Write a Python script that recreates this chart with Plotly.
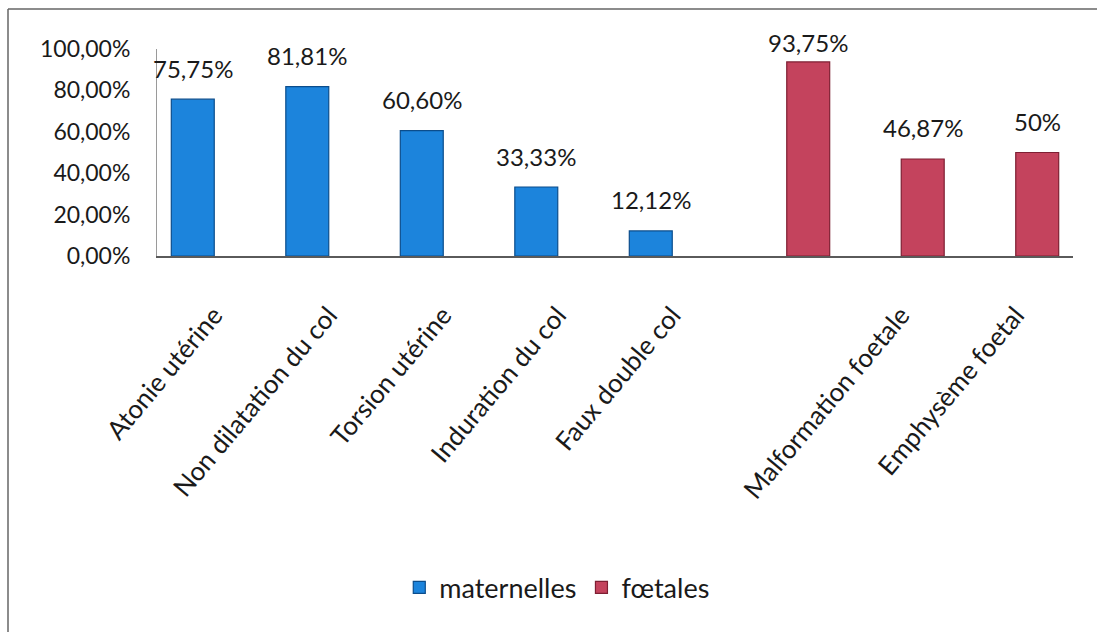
import plotly.graph_objects as go

# Causes of dystocia, share of cases (%)
categories = [
    "Atonie utérine",
    "Non dilatation du col",
    "Torsion utérine",
    "Induration du col",
    "Faux double col",
    "",
    "Malformation foetale",
    "Emphysème foetal",
]
maternelles = [75.75, 81.81, 60.60, 33.33, 12.12, None, None, None]
foetales = [None, None, None, None, None, 93.75, 46.87, 50]
y_ticks = [0, 20, 40, 60, 80, 100]

W, H = 1097, 632
M_L, M_R, M_T, M_B = 157, 24, 49, 376
Y_MAX = 100
BARGAP = 0.25
FONT = "Lato"
TXT = "#1a1a1a"


def pct(v, keep_decimals=False):
    s = f"{v:.2f}".replace(".", ",")
    if s.endswith(",00") and not keep_decimals:
        s = s[:-3]
    return s + "%"


xpos = list(range(len(categories)))
plot_w = W - M_L - M_R
plot_h = H - M_T - M_B

fig = go.Figure()
fig.add_bar(
    x=xpos, y=maternelles, name="maternelles",
    marker=dict(color="#1c84dc", line=dict(color="#0b4d8c", width=1.2)),
)
fig.add_bar(
    x=xpos, y=foetales, name="fœtales",
    marker=dict(color="#c4435d", line=dict(color="#7e1f33", width=1.2)),
)

# value labels above each bar (bars sit half a slot left/right of the tick);
# labels are kept inside the plotting area near the top
half_slot = (1 - BARGAP) / 4
for series, sign in ((maternelles, -1), (foetales, 1)):
    for i, v in enumerate(series):
        if v is None:
            continue
        bar_top = M_T + (Y_MAX - v) / Y_MAX * plot_h
        label_y = max(bar_top - 31, 42)
        fig.add_annotation(
            x=i + sign * half_slot, y=v, text=pct(v), showarrow=False,
            xanchor="center", yanchor="middle", yshift=bar_top - label_y,
            font=dict(family=FONT, size=24, color=TXT),
        )


def px_to_paper_x(px):
    return (px - M_L) / plot_w


def px_to_paper_y(py):
    return (H - M_B - py) / plot_h


# frame: top and left edges
frame = dict(type="line", xref="paper", yref="paper",
             line=dict(color="#666666", width=1.5), layer="below")
fig.add_shape(x0=px_to_paper_x(8), x1=px_to_paper_x(1097),
              y0=px_to_paper_y(9), y1=px_to_paper_y(9), **frame)
fig.add_shape(x0=px_to_paper_x(8), x1=px_to_paper_x(8),
              y0=px_to_paper_y(9), y1=px_to_paper_y(632), **frame)

fig.update_layout(
    width=W, height=H,
    margin=dict(l=M_L, r=M_R, t=M_T, b=M_B),
    paper_bgcolor="white", plot_bgcolor="white",
    barmode="group", bargap=BARGAP, bargroupgap=0,
    font=dict(family=FONT, color=TXT),
    showlegend=True,
    legend=dict(
        orientation="h", xref="container", yref="container",
        x=0.508, y=0.07, xanchor="center", yanchor="middle",
        font=dict(family=FONT, size=27, color=TXT),
        itemwidth=30, traceorder="normal",
    ),
)
fig.update_xaxes(
    range=[-0.5, len(categories) - 0.5],
    tickmode="array", tickvals=xpos, ticktext=categories,
    tickangle=-50, ticklabelstandoff=32,
    tickfont=dict(family=FONT, size=26, color=TXT),
    showline=True, linecolor="#5a5a5a", linewidth=1.5,
    showgrid=False, zeroline=False, ticks="",
)
fig.update_yaxes(
    range=[0, Y_MAX], tickmode="array", tickvals=y_ticks,
    ticktext=[pct(v, keep_decimals=True) for v in y_ticks],
    tickfont=dict(family=FONT, size=23, color=TXT),
    ticklabelstandoff=21,
    showline=True, linecolor="#9a9a9a", linewidth=1,
    showgrid=False, zeroline=False, ticks="",
)

fig.write_html("out.html")
